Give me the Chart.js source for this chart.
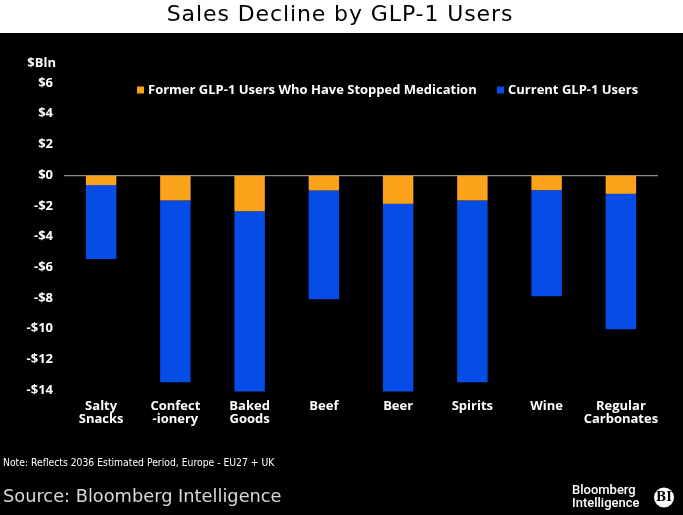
<!DOCTYPE html>
<html><head><meta charset="utf-8">
<script src="https://cdn.jsdelivr.net/npm/chart.js@4.4.1/dist/chart.umd.min.js"></script>
<style>html,body{margin:0;padding:0;background:#000;overflow:hidden}canvas{display:block}</style>
</head><body>
<canvas id="c" width="683" height="515"></canvas>
<script>
const categories = [["Salty","Snacks"],["Confect","-ionery"],["Baked","Goods"],["Beef"],["Beer"],["Spirits"],["Wine"],["Regular","Carbonates"]];
const formerUsers = [-0.65,-1.65,-2.35,-1.0,-1.87,-1.65,-0.98,-1.22];
const currentUsers = [-4.82,-11.85,-11.75,-7.08,-12.23,-11.85,-6.92,-8.83];
const seriesNames = ["Former GLP-1 Users Who Have Stopped Medication","Current GLP-1 Users"];
const seriesColors = ["#FCA31B","#054DE6"];
const yMin = -14, yMax = 6, yStep = 2;
const titleText = "Sales Decline by GLP-1 Users";
const unitText = "$Bln";
const noteText = "Note: Reflects 2036 Estimated Period, Europe - EU27 + UK";
const sourceText = "Source: Bloomberg Intelligence";

const bold = "'Open Sans', 'DejaVu Sans', sans-serif";

const decor = {
  id: 'decor',
  beforeDraw(chart) {
    const c = chart.ctx;
    c.save();
    c.fillStyle = '#000';
    c.fillRect(0, 0, chart.width, chart.height);
    c.fillStyle = '#fff';
    c.fillRect(0, 0, chart.width, 33);
    c.fillStyle = '#000';
    c.font = "22px 'DejaVu Sans', sans-serif";
    try { c.letterSpacing = '0.9px'; } catch (e) {}
    c.textAlign = 'center';
    c.textBaseline = 'middle';
    c.fillText(titleText, 340, 15);
    try { c.letterSpacing = '0px'; } catch (e) {}
    c.restore();
  },
  afterDraw(chart) {
    const c = chart.ctx;
    c.save();
    // unit label
    c.fillStyle = '#fff';
    c.font = "bold 13px " + bold;
    c.textAlign = 'right';
    c.textBaseline = 'middle';
    c.fillText(unitText, 56, 63);
    // legend
    const items = [
      {x: 137, label: seriesNames[0], color: seriesColors[0]},
      {x: 497, label: seriesNames[1], color: seriesColors[1]}
    ];
    c.textAlign = 'left';
    c.font = "bold 13px " + bold;
    items.forEach(it => {
      c.fillStyle = it.color;
      c.fillRect(it.x, 86.5, 7, 7);
      c.fillStyle = '#fff';
      c.fillText(it.label, it.x + 11, 90);
    });
    // note
    c.fillStyle = '#fff';
    c.font = "10.3px 'Liberation Sans Narrow', 'DejaVu Sans Condensed', sans-serif";
    c.fillText(noteText, 3, 463);
    // source
    c.fillStyle = '#d8d8d8';
    c.font = "17.8px 'DejaVu Sans', sans-serif";
    c.fillText(sourceText, 3, 497);
    // logo
    c.fillStyle = '#fff';
    c.font = "500 13px Roboto, sans-serif";
    c.fillText("Bloomberg", 572, 491);
    c.fillText("Intelligence", 572, 504);
    c.beginPath();
    c.arc(664, 497.5, 10, 0, Math.PI * 2);
    c.fill();
    c.fillStyle = '#000';
    c.textAlign = 'center';
    c.font = "bold 12px 'DejaVu Serif', serif";
    c.fillText("BI", 664, 498);
    c.restore();
  }
};

new Chart(document.getElementById('c'), {
  type: 'bar',
  data: {
    labels: categories,
    datasets: [
      {label: seriesNames[0], data: formerUsers, backgroundColor: seriesColors[0], stack: 's', clip: false},
      {label: seriesNames[1], data: currentUsers, backgroundColor: seriesColors[1], stack: 's', clip: false}
    ]
  },
  options: {
    responsive: false,
    animation: false,
    devicePixelRatio: 1,
    layout: {padding: {top: 83, left: 0, right: 25, bottom: 85}},
    plugins: {legend: {display: false}, title: {display: false}, tooltip: {enabled: false}},
    datasets: {bar: {categoryPercentage: 1, barPercentage: 0.41}},
    scales: {
      x: {
        stacked: true,
        grid: {display: false, drawTicks: false},
        border: {display: false},
        ticks: {color: '#fff', font: {family: bold, weight: 'bold', size: 13, lineHeight: 1.05}, padding: 9, maxRotation: 0, autoSkip: false},
        afterFit(s) { s.height = 40; }
      },
      y: {
        stacked: true,
        min: yMin, max: yMax,
        grid: {drawTicks: false, color: ctx => (ctx.tick && ctx.tick.value === 0) ? '#8a8a8a' : 'rgba(0,0,0,0)', lineWidth: 1.2},
        border: {display: false},
        ticks: {stepSize: yStep, color: '#fff', font: {family: bold, weight: 'bold', size: 13}, padding: 11,
          callback: v => (v < 0 ? '-$' : '$') + Math.abs(v)},
        afterFit(s) { s.width = 64; }
      }
    }
  },
  plugins: [decor]
});
</script>
</body></html>
